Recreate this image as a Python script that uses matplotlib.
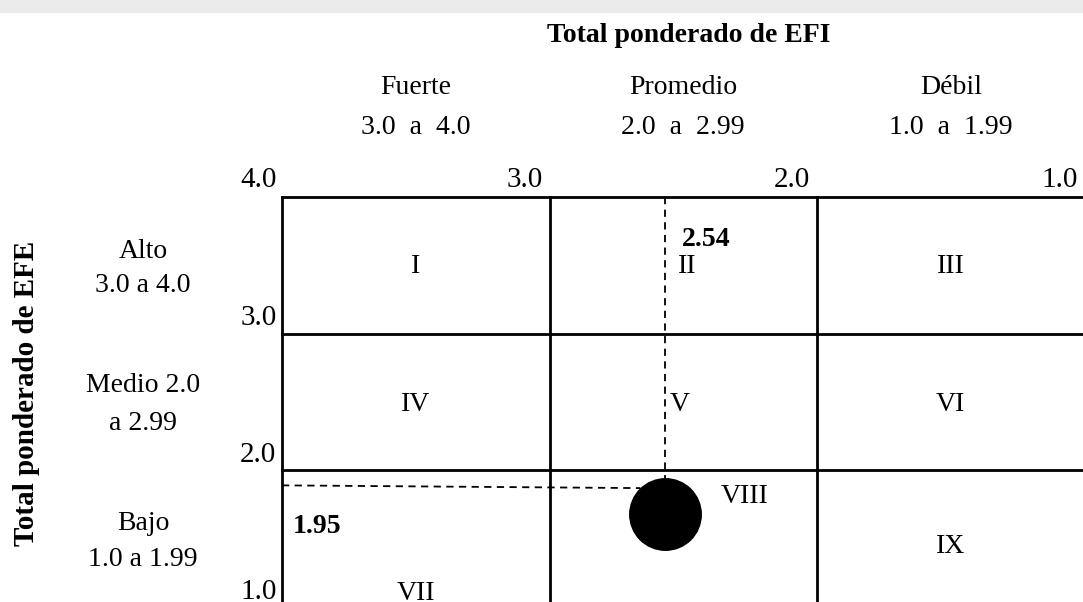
import matplotlib
matplotlib.use("Agg")
import matplotlib.pyplot as plt
from matplotlib.patches import Rectangle

plt.rcParams['font.family'] = ['Liberation Serif', 'DejaVu Serif']

# matriz interna-externa (IE)
efi_bounds = [4.0, 3.0, 2.0, 1.0]
efe_bounds = [4.0, 3.0, 2.0, 1.0]
col_names = ['Fuerte', 'Promedio', 'Débil']
col_ranges = ['3.0  a  4.0', '2.0  a  2.99', '1.0  a  1.99']
col_centers = [3.5, 2.5, 1.5]
row_names = ['Alto', 'Medio 2.0', 'Bajo']
row_ranges = ['3.0 a 4.0', 'a 2.99', '1.0 a 1.99']
row_name_y = [3.60, 2.62, 1.61]
row_range_y = [3.35, 2.34, 1.35]
tick_labels = ['4.0', '3.0', '2.0', '1.0']

# cuadrantes (numero, x, y, alineacion)
quad_names = ['I', 'II', 'III', 'IV', 'V', 'VI', 'VII', 'VIII', 'IX']
quad_x = [3.5, 2.52, 1.5, 3.5, 2.55, 1.5, 3.5, 2.36, 1.5]
quad_y = [3.49, 3.49, 3.49, 2.48, 2.48, 2.48, 1.10, 1.81, 1.44]
quad_ha = ['center', 'left', 'center', 'center', 'left', 'center', 'center', 'left', 'center']

# resultado
efi_label = '2.54'
efe_label = '1.95'
efi_line = 2.57
efe_line = 1.89
point_x = 2.57
point_y = 1.68

W, H = 1083, 602
fig = plt.figure(figsize=(W / 100, H / 100), dpi=100)
fig.patches.append(Rectangle((0, 1 - 12 / H), 1, 12 / H, transform=fig.transFigure,
                             color='#ebebeb', zorder=0))

x_left, x_right = 282, 1084.5
y_top, y_bot = 197, 607
ax = fig.add_axes([x_left / W, (H - y_bot) / H, (x_right - x_left) / W, (y_bot - y_top) / H])
ax.set_xlim(4, 1)
ax.set_ylim(1, 4)
ax.axis('off')

# rejilla
for xv in efi_bounds[:-1]:
    ax.axvline(xv, color='black', lw=2, clip_on=False)
for yv in efe_bounds[:-1]:
    ax.axhline(yv, color='black', lw=2, clip_on=False)

# lineas punteadas
ax.plot([efi_line, efi_line], [4.0, 1.94], color='black', lw=1.3, ls=(0, (4, 3)), clip_on=False)
ax.plot([4.0, 2.66], [efe_line, efe_line - 0.02], color='black', lw=1.3, ls=(0, (4, 3)), clip_on=False)
ax.scatter([point_x], [point_y], s=2650, color='black', zorder=5, clip_on=False)

fs = 20
# ticks superiores
for i, lab in enumerate(tick_labels):
    ax.annotate(lab, (efi_bounds[i], 4.0), xytext=(-4 if i == 0 else -5, 7),
                textcoords='offset points', ha='right', va='baseline', fontsize=21)
# ticks izquierdos
for i, lab in enumerate(tick_labels[1:]):
    ax.annotate(lab, (4.0, efe_bounds[i + 1]), xytext=(-4, 6),
                textcoords='offset points', ha='right', va='baseline', fontsize=21)

# encabezados de columnas
for cx, name, rng in zip(col_centers, col_names, col_ranges):
    ax.text(cx, 4.753, name, ha='center', va='baseline', fontsize=fs, clip_on=False)
    ax.text(cx, 4.461, rng, ha='center', va='baseline', fontsize=fs, clip_on=False)

# encabezados de filas
for yn, yr, name, rng in zip(row_name_y, row_range_y, row_names, row_ranges):
    ax.text(4.52, yn, name, ha='center', va='center', fontsize=fs)
    ax.text(4.52, yr, rng, ha='center', va='center', fontsize=fs)

ax.text(2.48, 5.134, 'Total ponderado de EFI', ha='center', va='baseline',
        fontsize=fs, fontweight='bold')
ax.text(4.957, 2.566, 'Total ponderado de EFE', ha='center', va='center',
        rotation=90, fontsize=21, fontweight='bold')

for name, qx, qy, ha in zip(quad_names, quad_x, quad_y, quad_ha):
    ax.text(qx, qy, name, ha=ha, va='center', fontsize=fs)

ax.text(2.505, 3.69, efi_label, ha='left', va='center', fontsize=fs, fontweight='bold')
ax.text(3.96, 1.59, efe_label, ha='left', va='center', fontsize=fs, fontweight='bold')

fig.savefig('out.png', dpi=100)
